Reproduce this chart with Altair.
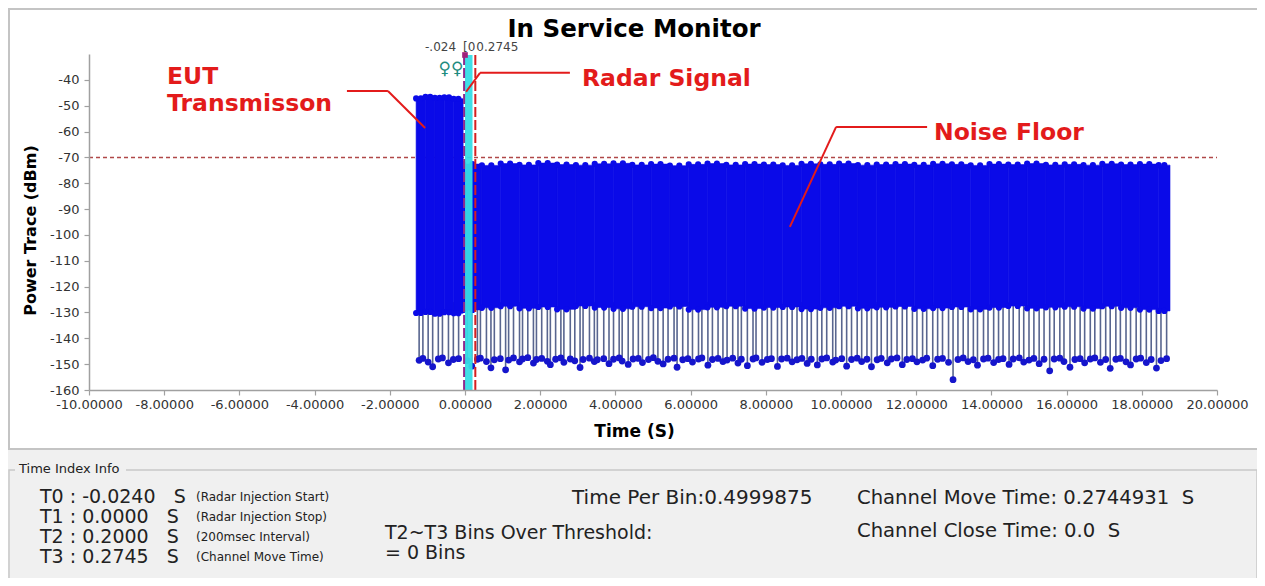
import altair as alt
import pandas as pd

# ---------------- data ----------------
x_ticks = [-10, -8, -6, -4, -2, 0, 2, 4, 6, 8, 10, 12, 14, 16, 18, 20]
y_ticks = [-40, -50, -60, -70, -80, -90, -100, -110, -120, -130, -140, -150, -160]
threshold = [-70]

# EUT transmission block (before radar injection)
eut_edges = [-1.30, -1.05, -0.80, -0.55, -0.30, -0.05]
eut_top = [-47.2, -46.6, -47.0, -46.8, -47.3]
eut_bottom = [-130.2, -129.8, -130.5, -129.9, -130.3]

# Noise floor block (after channel move), per time bin
noise_edges = [-0.05, 0.45, 0.95, 1.45, 1.95, 2.45, 2.95, 3.45, 3.95, 4.45, 4.95,
               5.45, 5.95, 6.45, 6.95, 7.45, 7.95, 8.45, 8.95, 9.45, 9.95, 10.45,
               10.95, 11.45, 11.95, 12.45, 12.95, 13.45, 13.95, 14.45, 14.95, 15.45,
               15.95, 16.45, 16.95, 17.45, 17.95, 18.45, 18.75]
noise_top = [-72.6, -73.1, -72.4, -72.9, -72.2, -72.8, -73.0, -72.5, -72.3, -72.9,
             -72.6, -73.2, -72.7, -72.4, -72.9, -72.6, -72.8, -73.1, -72.5, -72.7,
             -72.4, -73.0, -72.8, -72.6, -72.9, -72.5, -72.7, -73.1, -72.6, -72.8,
             -72.4, -72.9, -72.7, -73.0, -72.5, -72.8, -72.6, -73.0]
noise_bottom = [-129.0, -128.2, -127.6, -128.4, -127.9, -128.8, -127.5, -128.1, -128.6,
                -127.8, -128.3, -127.7, -128.9, -128.0, -127.6, -128.5, -128.1, -127.9,
                -128.7, -128.2, -127.6, -128.4, -128.0, -127.7, -128.6, -128.3, -127.9,
                -128.8, -128.1, -127.5, -128.4, -128.0, -127.8, -128.5, -127.6, -128.2,
                -128.9, -129.4]

# deep drops of the trace: (time, lowest dBm)
stem_top = -126
stems = [(-1.22, -148.5), (-1.12, -147.8), (-0.98, -149.2), (-0.86, -151.0), (-0.71, -148.0),
         (-0.60, -147.6), (-0.44, -149.5), (-0.31, -148.2), (-0.17, -147.9), (0.06, -148.6),
         (0.18, -150.8), (0.33, -148.1), (0.41, -147.7), (0.57, -149.0), (0.69, -151.4),
         (0.78, -148.3), (0.94, -147.9), (1.08, -152.2), (1.16, -148.4), (1.29, -147.6),
         (1.45, -149.1), (1.53, -148.0), (1.67, -147.5), (1.82, -149.6), (1.90, -148.2),
         (2.04, -147.8), (2.19, -148.9), (2.27, -150.2), (2.41, -148.1), (2.55, -147.6),
         (2.63, -149.3), (2.80, -148.0), (2.92, -148.7), (3.06, -151.3), (3.14, -148.2),
         (3.31, -147.7), (3.44, -149.0), (3.52, -148.3), (3.69, -147.9), (3.83, -149.8),
         (3.95, -148.1), (4.10, -147.6), (4.18, -148.8), (4.34, -150.1), (4.47, -148.0),
         (4.61, -147.8), (4.72, -149.4), (4.88, -148.2), (5.01, -147.5), (5.13, -148.9),
         (5.27, -149.9), (5.40, -148.1), (5.56, -147.7), (5.64, -151.2), (5.79, -148.3),
         (5.93, -147.9), (6.05, -149.2), (6.21, -148.0), (6.30, -147.6), (6.46, -150.4),
         (6.58, -148.2), (6.73, -147.8), (6.86, -149.0), (6.97, -148.4), (7.12, -147.7),
         (7.26, -149.6), (7.35, -148.1), (7.51, -150.6), (7.66, -148.0), (7.74, -147.6),
         (7.90, -149.3), (8.04, -148.2), (8.15, -147.9), (8.31, -150.9), (8.42, -148.0),
         (8.57, -147.7), (8.70, -149.1), (8.83, -148.3), (8.96, -147.8), (9.10, -149.7),
         (9.21, -148.1), (9.37, -150.3), (9.49, -148.0), (9.62, -147.6), (9.78, -149.2),
         (9.86, -148.4), (10.02, -147.9), (10.15, -150.8), (10.28, -148.2), (10.43, -147.7),
         (10.55, -149.0), (10.69, -148.1), (10.81, -151.0), (10.96, -148.3), (11.07, -147.8),
         (11.23, -149.5), (11.34, -148.0), (11.49, -147.6), (11.63, -150.2), (11.75, -148.2),
         (11.90, -147.9), (12.02, -149.1), (12.17, -148.4), (12.28, -147.7), (12.44, -150.6),
         (12.57, -148.1), (12.70, -147.8), (12.86, -149.3), (12.98, -156.0), (13.11, -148.2),
         (13.25, -147.6), (13.38, -149.0), (13.52, -148.3), (13.63, -150.4), (13.79, -148.0),
         (13.91, -147.7), (14.06, -149.4), (14.19, -148.2), (14.31, -147.9), (14.47, -150.1),
         (14.58, -148.0), (14.74, -147.6), (14.86, -149.2), (15.00, -148.4), (15.13, -147.8),
         (15.27, -149.8), (15.40, -148.1), (15.55, -152.6), (15.67, -148.0), (15.82, -147.7),
         (15.93, -149.0), (16.09, -151.2), (16.22, -148.2), (16.36, -147.9), (16.48, -149.5),
         (16.63, -148.0), (16.75, -147.6), (16.90, -149.3), (17.04, -148.2), (17.16, -151.6),
         (17.31, -148.1), (17.43, -147.8), (17.58, -149.1), (17.70, -150.3), (17.85, -148.0),
         (17.97, -147.7), (18.12, -149.4), (18.25, -148.2), (18.39, -151.5), (18.51, -148.6),
         (18.66, -147.9)]

# time indices
t_marks = [-0.024, 0.0, 0.2, 0.2745]
t_mark_colors = ["#8e2a8e", "#8e2a8e", "#35dde6", "#d42020"]

# red call-out leader segments (time, dBm)
leader_x1 = [-3.14, -2.05, 0.40, 0.40, 9.87, 9.87]
leader_y1 = [-44.3, -44.3, -37.3, -37.3, -58.2, -58.2]
leader_x2 = [-2.05, -1.06, 2.79, 0.03, 12.29, 8.64]
leader_y2 = [-44.3, -58.6, -37.3, -44.6, -58.2, -96.9]

# ---------------- layout ----------------
W, H = 1128, 336          # plot area
OX, OY = 89, 54           # plot origin on the page
NB = "\u00a0"


def px(x):
    return x - OX


def py(y):
    return y - OY


FONT = "DejaVu Sans"
xs = alt.Scale(domain=[-10, 20], nice=False, zero=False)
ys = alt.Scale(domain=[-160, -30], nice=False, zero=False)

xaxis = alt.Axis(values=x_ticks, format=".5f", title="Time (S)", grid=False,
                 labelExpr="replace(datum.label, '\u2212', '-')",
                 domainColor="#a0a0a0", domainWidth=1.5, tickColor="#a0a0a0", tickSize=5,
                 tickWidth=1.2, labelFont=FONT, labelFontSize=13, labelColor="#333333",
                 labelPadding=3, labelFlush=False, labelOverlap=False,
                 titleFont=FONT, titleFontSize=17, titleFontWeight="bold", titleColor="#000000",
                 titleX=545, titleY=41, titleBaseline="middle", titleAlign="center", zindex=1)
yaxis = alt.Axis(values=y_ticks, title="Power Trace (dBm)", grid=False,
                 labelExpr="replace(datum.label, '\u2212', '-')",
                 domainColor="#a0a0a0", domainWidth=1.5, tickColor="#a0a0a0", tickSize=5,
                 tickWidth=1.2, labelFont=FONT, labelFontSize=13, labelColor="#333333",
                 labelPadding=5, labelOverlap=False, labelFlush=False,
                 titleFont=FONT, titleFontSize=16, titleFontWeight="bold", titleColor="#000000",
                 titleX=-59, titleY=176, titleAngle=270, titleBaseline="middle",
                 titleAlign="center", zindex=1)


def X(f):
    return alt.X(f, type="quantitative", scale=xs, axis=xaxis)


def Y(f):
    return alt.Y(f, type="quantitative", scale=ys, axis=yaxis)


dummy = pd.DataFrame({"a": [0]})


def box(x1, y1, x2, y2, fill, stroke=None, sw=0):
    kw = dict(fill=fill)
    if stroke:
        kw.update(stroke=stroke, strokeWidth=sw)
    return alt.Chart(dummy).mark_rect(**kw).encode(
        x=alt.value(px(x1)), x2=alt.value(px(x2)), y=alt.value(py(y1)), y2=alt.value(py(y2)))


def txt(s, x, y, size, color="#222222", weight="normal", align="left"):
    return alt.Chart(dummy).mark_text(
        text=s, font=FONT, fontSize=size, color=color, fontWeight=weight,
        align=align, baseline="middle").encode(x=alt.value(px(x)), y=alt.value(py(y)))


# ---------------- tables ----------------
bins = pd.DataFrame({
    "start": eut_edges[:-1] + noise_edges[:-1],
    "end": eut_edges[1:] + noise_edges[1:],
    "top": eut_top + noise_top,
    "bottom": eut_bottom + noise_bottom,
})
bins["mid"] = (bins["start"] + bins["end"]) / 2
edge_pts = pd.concat([
    pd.DataFrame({"t": bins["mid"], "v": bins["top"]}),
    pd.DataFrame({"t": bins["start"], "v": bins["top"]}),
    pd.DataFrame({"t": bins["mid"], "v": bins["bottom"]}),
    pd.DataFrame({"t": bins["start"], "v": bins["bottom"]}),
])
stem_df = pd.DataFrame({"t": [s[0] for s in stems], "low": [s[1] for s in stems]})
stem_df["top"] = stem_top
thr_df = pd.DataFrame({"v": threshold})
cyan_df = pd.DataFrame({"t1": [t_marks[1]], "t2": [t_marks[2]]})
vline_df = pd.DataFrame({"t": [t_marks[0], t_marks[3]], "c": [t_mark_colors[0], t_mark_colors[3]]})
lead_df = pd.DataFrame({"x1": leader_x1, "y1": leader_y1, "x2": leader_x2, "y2": leader_y2})
mark_df = pd.DataFrame({"t": t_marks})

BLUE = "#0a0ae8"
RED = "#e31b1b"

layers = []
# panels
layers.append(box(9, 9, 1258, 449, "#ffffff", "#c4c4c4", 2))
layers.append(box(9, 470, 1257, 582, "#f0f0f0", "#c8c8c8", 1.5))
layers.append(box(15, 461, 126, 479, "#f0f0f0"))
layers.append(txt("Time Index Info", 19, 469, 13, "#222222"))

# threshold
layers.append(alt.Chart(thr_df).mark_rule(color="#b04848", strokeDash=[4, 3], strokeWidth=1.5).encode(
    x=alt.value(0), x2=alt.value(W), y=Y("v")))
# stems
layers.append(alt.Chart(stem_df).mark_rule(color="#58658f", strokeWidth=1.6).encode(
    x=X("t"), y=Y("top"), y2=alt.Y2("low")))
# blocks
layers.append(alt.Chart(bins).mark_rect(color=BLUE, stroke=BLUE, strokeWidth=0.6).encode(
    x=X("start"), x2=alt.X2("end"), y=Y("top"), y2=alt.Y2("bottom")))
layers.append(alt.Chart(edge_pts).mark_circle(size=38, color=BLUE, opacity=1).encode(
    x=X("t"), y=Y("v")))
layers.append(alt.Chart(stem_df).mark_circle(size=46, color="#1515cc", opacity=1).encode(
    x=X("t"), y=Y("low")))
# time index markers
layers.append(alt.Chart(cyan_df).mark_rect(color=t_mark_colors[2], opacity=0.95).encode(
    x=X("t1"), x2=alt.X2("t2"), y=alt.value(1), y2=alt.value(H)))
layers.append(alt.Chart(vline_df).mark_rule(strokeDash=[10, 3], strokeWidth=2).encode(
    x=X("t"), y=alt.value(1), y2=alt.value(H), color=alt.Color("c:N", scale=None)))
layers.append(alt.Chart(mark_df[mark_df["t"] == t_marks[1]]).mark_square(
    size=32, color="#a0207a", opacity=1).encode(x=X("t"), y=alt.value(1)))
layers.append(alt.Chart(mark_df[mark_df["t"] == t_marks[0]]).mark_text(
    text="-.024", font=FONT, fontSize=12, color="#444444", align="right", baseline="middle",
    dx=-8).encode(x=X("t"), y=alt.value(py(47))))
layers.append(alt.Chart(mark_df[mark_df["t"] == t_marks[1]]).mark_text(
    text="[0", font=FONT, fontSize=12, color="#444444", align="left", baseline="middle",
    dx=-2).encode(x=X("t"), y=alt.value(py(47))))
layers.append(alt.Chart(mark_df[mark_df["t"] == t_marks[3]]).mark_text(
    text="0.2745", font=FONT, fontSize=12, color="#444444", align="left", baseline="middle",
    dx=1).encode(x=X("t"), y=alt.value(py(47))))
layers.append(txt("♀♀", 451, 69, 17, "#1e8c80", "bold", "center"))

# call-outs
layers.append(alt.Chart(lead_df).mark_rule(color=RED, strokeWidth=2).encode(
    x=X("x1"), y=Y("y1"), x2=alt.X2("x2"), y2=alt.Y2("y2")))
layers.append(txt("EUT", 167, 77, 23.5, RED, "bold"))
layers.append(txt("Transmisson", 167, 104, 23.5, RED, "bold"))
layers.append(txt("Radar Signal", 582, 79, 23.5, RED, "bold"))
layers.append(txt("Noise Floor", 934, 133, 23.5, RED, "bold"))
layers.append(txt("In Service Monitor", 634, 30, 24.5, "#000000", "bold", "center"))

# time index info
info_left = ["T0 : -0.0240", "T1 : 0.0000", "T2 : 0.2000", "T3 : 0.2745"]
info_note = ["(Radar Injection Start)", "(Radar Injection Stop)", "(200msec Interval)",
             "(Channel Move Time)"]
for i, (a, b) in enumerate(zip(info_left, info_note)):
    yy = 497 + 20 * i
    layers.append(txt(a + NB * 3 + "S", 40, yy, 19))
    layers.append(txt(b, 196, yy, 12))
layers.append(txt("Time Per Bin:0.4999875", 572, 498, 20))
layers.append(txt("T2~T3 Bins Over Threshold:", 385, 533, 19))
layers.append(txt("= 0 Bins", 385, 553, 19))
layers.append(txt("Channel Move Time: 0.2744931" + NB * 2 + "S", 857, 498, 19.6))
layers.append(txt("Channel Close Time: 0.0" + NB * 2 + "S", 857, 531, 19.6))

chart = alt.layer(*layers).properties(
    width=W, height=H,
    padding={"left": 81, "top": 46, "right": 40, "bottom": 188},
    autosize=alt.AutoSizeParams(type="none"),
    background="#f0f0f0",
).configure_view(strokeWidth=0)

chart.save("out.html", embed_options={"renderer": "svg", "actions": False})
